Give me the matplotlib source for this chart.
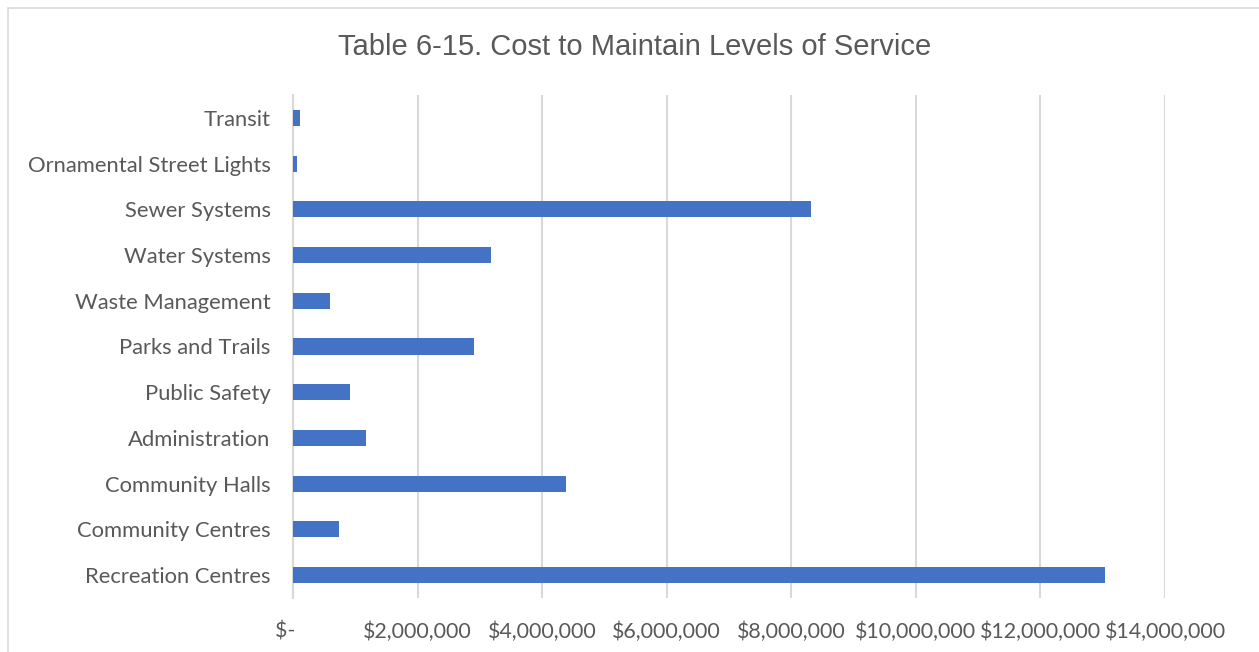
import matplotlib.pyplot as plt
from matplotlib.patches import Rectangle
from matplotlib.ticker import FuncFormatter

# -----------------------------------
# Data
# -----------------------------------
categories = ["Recreation Centres", "Community Centres", "Community Halls",
              "Administration", "Public Safety", "Parks and Trails",
              "Waste Management", "Water Systems", "Sewer Systems",
              "Ornamental Street Lights", "Transit"]
costs = [13040000, 740000, 4390000, 1170000, 920000, 2910000,
         600000, 3180000, 8310000, 60000, 112000]
x_ticks = [0, 2000000, 4000000, 6000000, 8000000, 10000000, 12000000, 14000000]

bar_color = "#4472C4"
grid_color = "#D9D9D9"
text_color = "#595959"

fig = plt.figure(figsize=(12.59, 6.52), dpi=100)
W, H = 1259, 652

# chart frame
fig.patches.append(Rectangle((8 / W, -0.01), 1.2, 1 - 8 / H + 0.01,
                             transform=fig.transFigure, fill=False,
                             edgecolor=grid_color, linewidth=1.2))

ax = fig.add_axes([293 / W, 1 - 598 / H, (1165 - 293) / W, (598 - 95) / H])

y = list(range(len(categories)))
ax.barh(y, costs, height=0.35, color=bar_color, zorder=3)

ax.set_xlim(0, 14000000)
ax.set_ylim(-0.5, len(categories) - 0.5)
ax.set_xticks(x_ticks)
# accounting style: zero shows as "$-" sitting a little left
ax.xaxis.set_major_formatter(FuncFormatter(
    lambda v, p: "$-   " if v == 0 else "${:,.0f}".format(v)))
ax.set_yticks(y)
ax.set_yticklabels(categories)

ax.grid(axis="x", color=grid_color, linewidth=1.5, zorder=0)
for s in ["top", "right", "bottom"]:
    ax.spines[s].set_visible(False)
ax.spines["left"].set_color(grid_color)
ax.spines["left"].set_linewidth(1.5)
ax.tick_params(axis="both", length=0, labelcolor=text_color)
ax.tick_params(axis="y", pad=16, labelsize=15.8)
ax.tick_params(axis="x", pad=17, labelsize=15.4)
for lab in ax.get_xticklabels() + ax.get_yticklabels():
    lab.set_family("Lato")

fig.text(635 / W, 1 - 47 / H, "Table 6-15. Cost to Maintain Levels of Service",
         ha="center", va="center", fontsize=21, color=text_color,
         family="Liberation Sans")

fig.savefig("out.png", dpi=100)
